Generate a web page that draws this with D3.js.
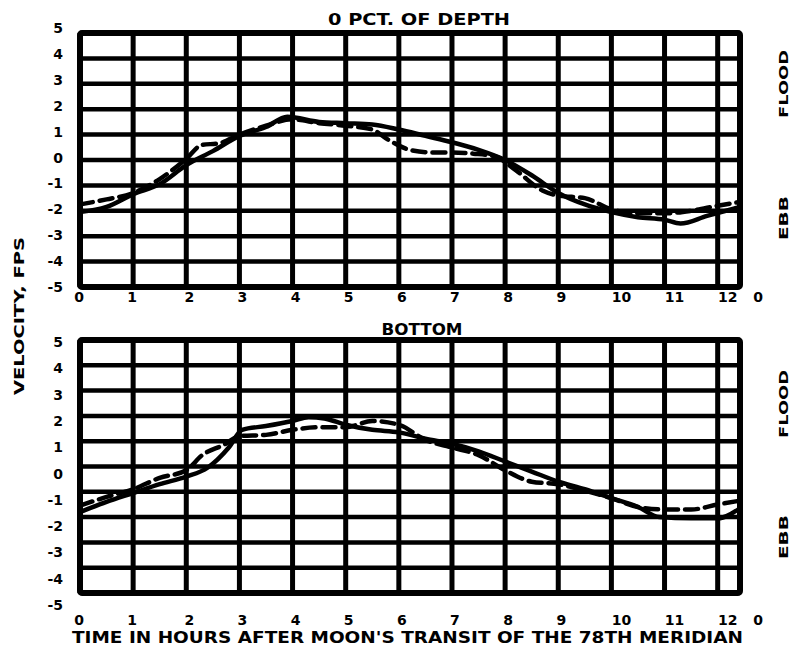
<!DOCTYPE html>
<html>
<head>
<meta charset="utf-8">
<script src="https://cdn.jsdelivr.net/npm/d3@7"></script>
<style>
  html, body { margin: 0; padding: 0; background: #fff; }
  svg { display: block; }
  text { font-family: "DejaVu Sans", "Liberation Sans", sans-serif; font-weight: bold; fill: #000; }
</style>
</head>
<body>
<svg id="chart" width="796" height="648"></svg>
<script>
// ---------- data ----------
const xMax = 12.42;                       // tidal cycle length, hours
const hourTicks = d3.range(0, 13);        // 0..12
const velTicks = d3.range(-5, 6);         // -5..5
const endLabel = "0";

const panelTitles = ["0 PCT. OF DEPTH", "BOTTOM"];
const yAxisTitle = "VELOCITY, FPS";
const xAxisTitle = "TIME IN HOURS AFTER MOON'S TRANSIT OF THE 78TH MERIDIAN";
const floodLabel = "FLOOD";
const ebbLabel = "EBB";

// surface (0 pct of depth)
const surfSolidT = [0, 0.5, 1, 1.5, 2, 2.5, 3, 3.5, 3.9, 4.5, 5, 5.5, 6, 6.5, 7, 7.5, 8, 8.5, 9, 9.5, 10, 10.5, 11, 11.3, 11.8, 12.42];
const surfSolidV = [-2.05, -1.85, -1.35, -0.95, -0.2, 0.35, 0.95, 1.3, 1.7, 1.5, 1.45, 1.4, 1.2, 0.95, 0.7, 0.4, 0.0, -0.6, -1.3, -1.75, -2.05, -2.25, -2.35, -2.5, -2.2, -1.85];
const surfDashT = [0, 0.5, 1, 1.5, 2, 2.3, 2.6, 3, 3.5, 4, 4.5, 5, 5.5, 5.8, 6.2, 6.6, 7, 7.4, 7.8, 8.2, 8.7, 9, 9.5, 10, 10.5, 11, 11.5, 12, 12.42];
const surfDashV = [-1.75, -1.55, -1.3, -0.75, 0.05, 0.6, 0.65, 1.0, 1.35, 1.6, 1.45, 1.35, 1.2, 0.8, 0.4, 0.3, 0.3, 0.25, 0.15, -0.4, -1.2, -1.4, -1.5, -1.95, -2.1, -2.1, -2.0, -1.8, -1.65];

// bottom
const botSolidT = [0, 0.5, 1, 1.5, 2, 2.4, 2.8, 3.05, 3.5, 4, 4.3, 4.6, 5, 5.5, 6, 6.5, 7, 7.5, 8, 8.5, 9, 9.5, 10, 10.5, 10.9, 11.5, 12, 12.42];
const botSolidV = [-1.8, -1.4, -1.05, -0.7, -0.4, -0.05, 0.75, 1.45, 1.6, 1.8, 1.95, 1.9, 1.65, 1.45, 1.35, 1.1, 0.9, 0.6, 0.2, -0.2, -0.6, -0.9, -1.25, -1.6, -2.0, -2.05, -2.05, -1.65];
const botDashT = [0, 0.5, 1, 1.5, 2, 2.3, 2.7, 3, 3.5, 4, 4.5, 5, 5.5, 6, 6.5, 7, 7.5, 8, 8.5, 9, 9.5, 10, 10.5, 11, 11.5, 12, 12.42];
const botDashV = [-1.55, -1.2, -0.9, -0.45, -0.15, 0.45, 0.85, 1.2, 1.25, 1.45, 1.55, 1.55, 1.8, 1.65, 1.05, 0.75, 0.45, -0.15, -0.6, -0.7, -0.95, -1.25, -1.6, -1.7, -1.7, -1.5, -1.35];

// ---------- layout ----------
const svg = d3.select("#chart");
const x = d3.scaleLinear().domain([0, xMax]).range([80, 740]);

const panels = [
  { title: panelTitles[0], titleX: 419, titleY: 25, titleLen: 182,
    y0: 33, y1: 287, labTop: 28, labBot: 287, xLabY: 302, floodY: 84, ebbY: 218,
    solid: d3.zip(surfSolidT, surfSolidV), dashed: d3.zip(surfDashT, surfDashV) },
  { title: panelTitles[1], titleX: 422, titleY: 335, titleLen: 81,
    y0: 340, y1: 593, labTop: 342, labBot: 605, xLabY: 625, floodY: 404, ebbY: 537,
    solid: d3.zip(botSolidT, botSolidV), dashed: d3.zip(botDashT, botDashV) }
];

panels.forEach(p => {
  const y = d3.scaleLinear().domain([-5, 5]).range([p.y1, p.y0]);
  const yLab = d3.scaleLinear().domain([-5, 5]).range([p.labBot, p.labTop]);
  const g = svg.append("g");

  // horizontal grid
  g.selectAll(".h").data(velTicks).join("line")
    .attr("x1", x(0)).attr("x2", x(xMax))
    .attr("y1", d => y(d)).attr("y2", d => y(d))
    .attr("stroke", "#000").attr("stroke-width", 4.5);
  // vertical grid
  g.selectAll(".v").data(hourTicks).join("line")
    .attr("x1", d => x(d)).attr("x2", d => x(d))
    .attr("y1", y(5)).attr("y2", y(-5))
    .attr("stroke", "#000").attr("stroke-width", 5);
  // border
  g.append("rect")
    .attr("x", x(0)).attr("y", y(5))
    .attr("width", x(xMax) - x(0)).attr("height", y(-5) - y(5))
    .attr("fill", "none").attr("stroke", "#000").attr("stroke-width", 6)
    .attr("rx", 2);

  const line = d3.line().x(d => x(d[0])).y(d => y(d[1])).curve(d3.curveMonotoneX);
  g.append("path").attr("d", line(p.solid))
    .attr("fill", "none").attr("stroke", "#000").attr("stroke-width", 4.5)
    .attr("stroke-linejoin", "round").attr("stroke-linecap", "round");
  g.append("path").attr("d", line(p.dashed))
    .attr("fill", "none").attr("stroke", "#000").attr("stroke-width", 4.5)
    .attr("stroke-dasharray", "13,7").attr("stroke-linecap", "round");

  // y tick labels
  g.selectAll(".yl").data(velTicks).join("text")
    .attr("x", 63).attr("y", d => yLab(d)).attr("dy", "0.36em")
    .attr("text-anchor", "end").attr("font-size", 14)
    .text(d => d < 0 ? "-" + Math.abs(d) : String(d));

  // x tick labels
  g.selectAll(".xl").data(hourTicks).join("text")
    .attr("x", d => x(d) + (d >= 10 ? 10 : (d <= 1 ? -1 : 3)))
    .attr("y", p.xLabY).attr("text-anchor", "middle").attr("font-size", 14)
    .text(d => String(d));
  g.append("text").attr("x", x(xMax) + 18).attr("y", p.xLabY)
    .attr("text-anchor", "middle").attr("font-size", 14).text(endLabel);

  // title
  g.append("text").attr("x", p.titleX).attr("y", p.titleY)
    .attr("text-anchor", "middle").attr("font-size", 15)
    .attr("textLength", p.titleLen).attr("lengthAdjust", "spacingAndGlyphs")
    .text(p.title);

  // FLOOD / EBB
  g.append("text").attr("transform", `translate(788,${p.floodY}) rotate(-90)`)
    .attr("text-anchor", "middle").attr("font-size", 13)
    .attr("textLength", 68).attr("lengthAdjust", "spacingAndGlyphs").text(floodLabel);
  g.append("text").attr("transform", `translate(788,${p.ebbY}) rotate(-90)`)
    .attr("text-anchor", "middle").attr("font-size", 13)
    .attr("textLength", 44).attr("lengthAdjust", "spacingAndGlyphs").text(ebbLabel);
});

// axis titles
svg.append("text").attr("transform", "translate(24,316) rotate(-90)")
  .attr("text-anchor", "middle").attr("font-size", 14)
  .attr("textLength", 158).attr("lengthAdjust", "spacingAndGlyphs").text(yAxisTitle);
svg.append("text").attr("x", 72).attr("y", 643)
  .attr("font-size", 15)
  .attr("textLength", 671).attr("lengthAdjust", "spacingAndGlyphs").text(xAxisTitle);
</script>
</body>
</html>
